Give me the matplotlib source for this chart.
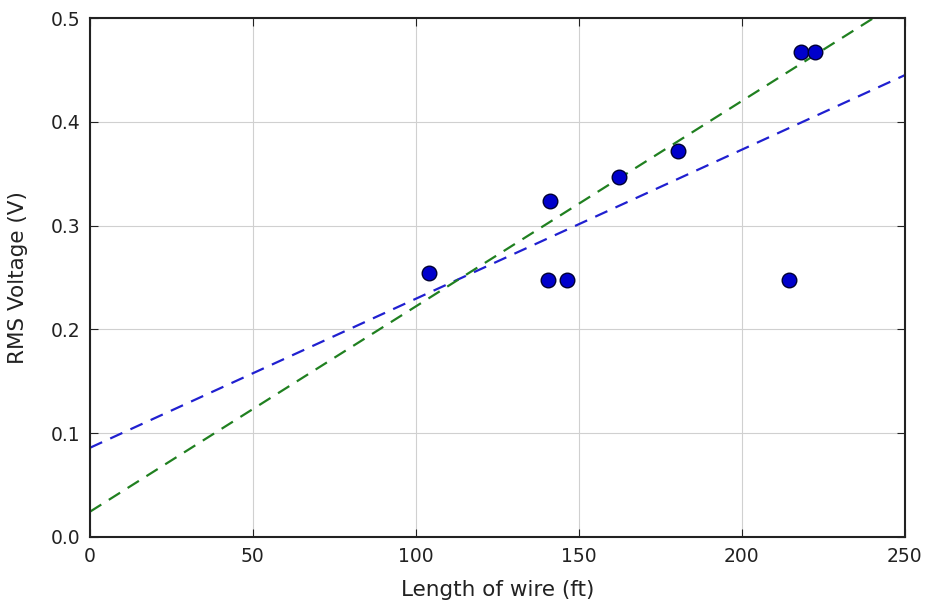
import matplotlib
matplotlib.use("Agg")
import matplotlib.pyplot as plt
import numpy as np

length_ft = [104.1, 140.6, 141.1, 146.4, 162.4, 180.5, 214.5, 218.3, 222.4]
rms_v = [0.254, 0.248, 0.324, 0.248, 0.347, 0.372, 0.248, 0.4675, 0.4675]

fit_x = [0, 250]
fit_blue = [0.086, 0.445]
fit_green = [0.0244, 0.519]

fig = plt.figure(figsize=(9.25, 6.05), dpi=100)
ax = fig.add_axes([0.0973, 0.1124, 0.978 - 0.0973, 0.970 - 0.1124])

ax.plot(fit_x, fit_blue, '--', color='#2020d0', lw=1.6, dashes=(6, 4), zorder=2)
ax.plot(fit_x, fit_green, '--', color='#208020', lw=1.6, dashes=(6, 4), zorder=2)
ax.plot(length_ft, rms_v, 'o', color='#0000cc', markeredgecolor='#000033',
        markeredgewidth=1.0, markersize=10.5, zorder=3)

ax.set_xlim(0, 250)
ax.set_ylim(0, 0.5)
ax.set_xticks([0, 50, 100, 150, 200, 250])
ax.set_yticks([0.0, 0.1, 0.2, 0.3, 0.4, 0.5])
ax.set_yticklabels(['0.0', '0.1', '0.2', '0.3', '0.4', '0.5'])
ax.grid(True, color='#d0d0d0', lw=0.8, ls='-')
ax.set_axisbelow(True)
ax.tick_params(direction='in', length=6, labelsize=13.5, top=True, right=True,
               colors='#222222', pad=7)
for s in ax.spines.values():
    s.set_linewidth(1.5)
    s.set_color('#222222')
ax.set_xlabel('Length of wire (ft)', fontsize=15.5, color='#222222', labelpad=10)
ax.set_ylabel('RMS Voltage (V)', fontsize=15.5, color='#222222', labelpad=16)

fig.savefig('out.png', dpi=100)
